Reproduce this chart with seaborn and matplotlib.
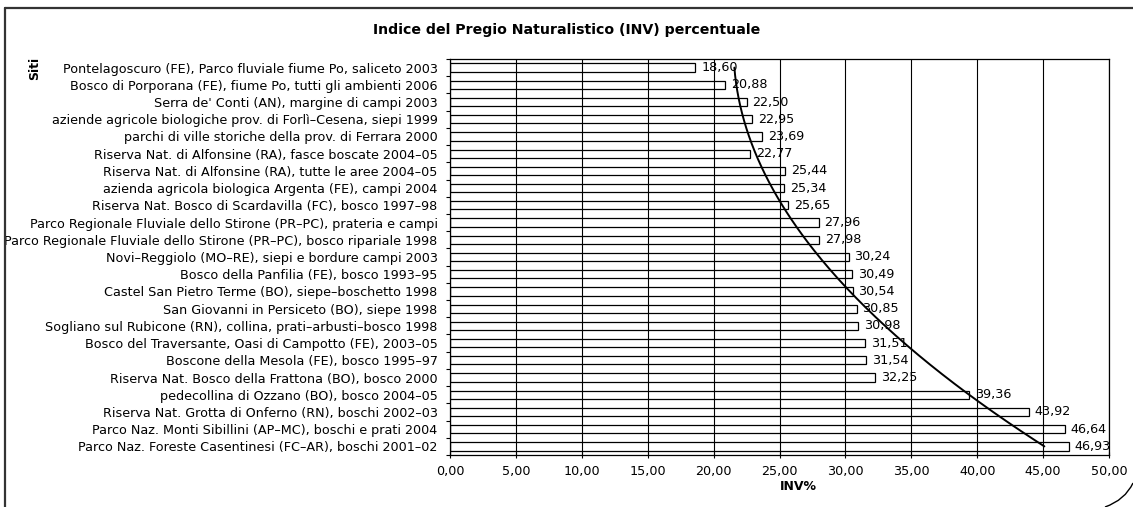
import numpy as np
import pandas as pd
import seaborn as sns
import matplotlib.pyplot as plt
from matplotlib.path import Path
from matplotlib.patches import PathPatch
from matplotlib.lines import Line2D

sns.set_style("white")
plt.rcParams['font.family'] = ['DejaVu Sans']
plt.rcParams['text.color'] = 'black'
plt.rcParams['xtick.color'] = 'black'
plt.rcParams['ytick.color'] = 'black'

siti = [
    "Pontelagoscuro (FE), Parco fluviale fiume Po, saliceto 2003",
    "Bosco di Porporana (FE), fiume Po, tutti gli ambienti 2006",
    "Serra de' Conti (AN), margine di campi 2003",
    "aziende agricole biologiche prov. di Forlì–Cesena, siepi 1999",
    "parchi di ville storiche della prov. di Ferrara 2000",
    "Riserva Nat. di Alfonsine (RA), fasce boscate 2004–05",
    "Riserva Nat. di Alfonsine (RA), tutte le aree 2004–05",
    "azienda agricola biologica Argenta (FE), campi 2004",
    "Riserva Nat. Bosco di Scardavilla (FC), bosco 1997–98",
    "Parco Regionale Fluviale dello Stirone (PR–PC), prateria e campi",
    "Parco Regionale Fluviale dello Stirone (PR–PC), bosco ripariale 1998",
    "Novi–Reggiolo (MO–RE), siepi e bordure campi 2003",
    "Bosco della Panfilia (FE), bosco 1993–95",
    "Castel San Pietro Terme (BO), siepe–boschetto 1998",
    "San Giovanni in Persiceto (BO), siepe 1998",
    "Sogliano sul Rubicone (RN), collina, prati–arbusti–bosco 1998",
    "Bosco del Traversante, Oasi di Campotto (FE), 2003–05",
    "Boscone della Mesola (FE), bosco 1995–97",
    "Riserva Nat. Bosco della Frattona (BO), bosco 2000",
    "pedecollina di Ozzano (BO), bosco 2004–05",
    "Riserva Nat. Grotta di Onferno (RN), boschi 2002–03",
    "Parco Naz. Monti Sibillini (AP–MC), boschi e prati 2004",
    "Parco Naz. Foreste Casentinesi (FC–AR), boschi 2001–02",
]
inv = [18.60, 20.88, 22.50, 22.95, 23.69, 22.77, 25.44, 25.34, 25.65, 27.96,
       27.98, 30.24, 30.49, 30.54, 30.85, 30.98, 31.51, 31.54, 32.25, 39.36,
       43.92, 46.64, 46.93]
x_ticks = [0, 5, 10, 15, 20, 25, 30, 35, 40, 45, 50]

df = pd.DataFrame({"sito": siti, "inv": inv})

fig = plt.figure(figsize=(11.33, 5.07), dpi=100)
ax = fig.add_axes([0.3972, 0.1026, 0.5816, 0.781])

sns.barplot(data=df, x="inv", y="sito", orient="h", fill=False, color="black",
            width=0.48, linewidth=0.9, ax=ax)

# trend line (quadratic fit, like the spreadsheet trendline)
pos = np.arange(len(inv))
coef = np.polyfit(pos + 1, inv, 2)
ys = np.linspace(0, len(inv) - 1, 200)
ax.plot(np.polyval(coef, ys + 1), ys, color="black", lw=1.4, zorder=5)

for i, v in enumerate(inv):
    ax.text(v + 0.45, i, f"{v:.2f}".replace(".", ","), va="center", ha="left",
            fontsize=9.2, color="black", zorder=6)

ax.set_xlim(0, 50)
ax.set_ylim(len(inv) - 0.5, -0.5)
ax.set_xticks(x_ticks)
ax.set_xticklabels([f"{t:.2f}".replace(".", ",") for t in x_ticks], fontsize=9.2)
ax.set_yticks(pos)
ax.set_yticklabels(siti, fontsize=9.2)
ax.set_yticks(np.arange(len(inv) + 1) - 0.5, minor=True)
ax.tick_params(axis="y", which="major", length=0, pad=9)
ax.tick_params(axis="y", which="minor", length=3, direction="out", width=0.8, color="black", left=True)
ax.tick_params(axis="x", which="major", length=4, direction="inout", width=0.8, color="black",
               bottom=True, pad=5)
ax.grid(axis="x", color="black", lw=0.8, zorder=0)
ax.set_axisbelow(True)
for s in ax.spines.values():
    s.set_color("black")
    s.set_linewidth(0.9)

ax.set_xlabel("")
ax.set_ylabel("")
fig.text(0.5, 0.94, "Indice del Pregio Naturalistico (INV) percentuale", ha="center", va="center",
         fontsize=10.2, fontweight="bold")
fig.text(0.031, 0.865, "Siti", rotation=90, ha="center", va="center", fontsize=9, fontweight="bold")
fig.text(0.705, 0.04, "INV%", ha="center", va="center", fontsize=9, fontweight="bold")

# outer frame with page curl
fig.add_artist(Line2D([5 / 1133, 1], [1 - 8 / 507, 1 - 8 / 507], transform=fig.transFigure,
                      color="#333333", lw=1.6))
fig.add_artist(Line2D([5 / 1133, 5 / 1133], [0, 1 - 8 / 507], transform=fig.transFigure,
                      color="#333333", lw=1.6))
curl = Path([(1133 / 1133, 1 - 483 / 507), (1125 / 1133, 1 - 500 / 507), (1105 / 1133, 0)],
            [Path.MOVETO, Path.CURVE3, Path.CURVE3])
fig.add_artist(PathPatch(curl, transform=fig.transFigure, fill=False, color="black", lw=1.0))

fig.savefig("out.png", dpi=100)
